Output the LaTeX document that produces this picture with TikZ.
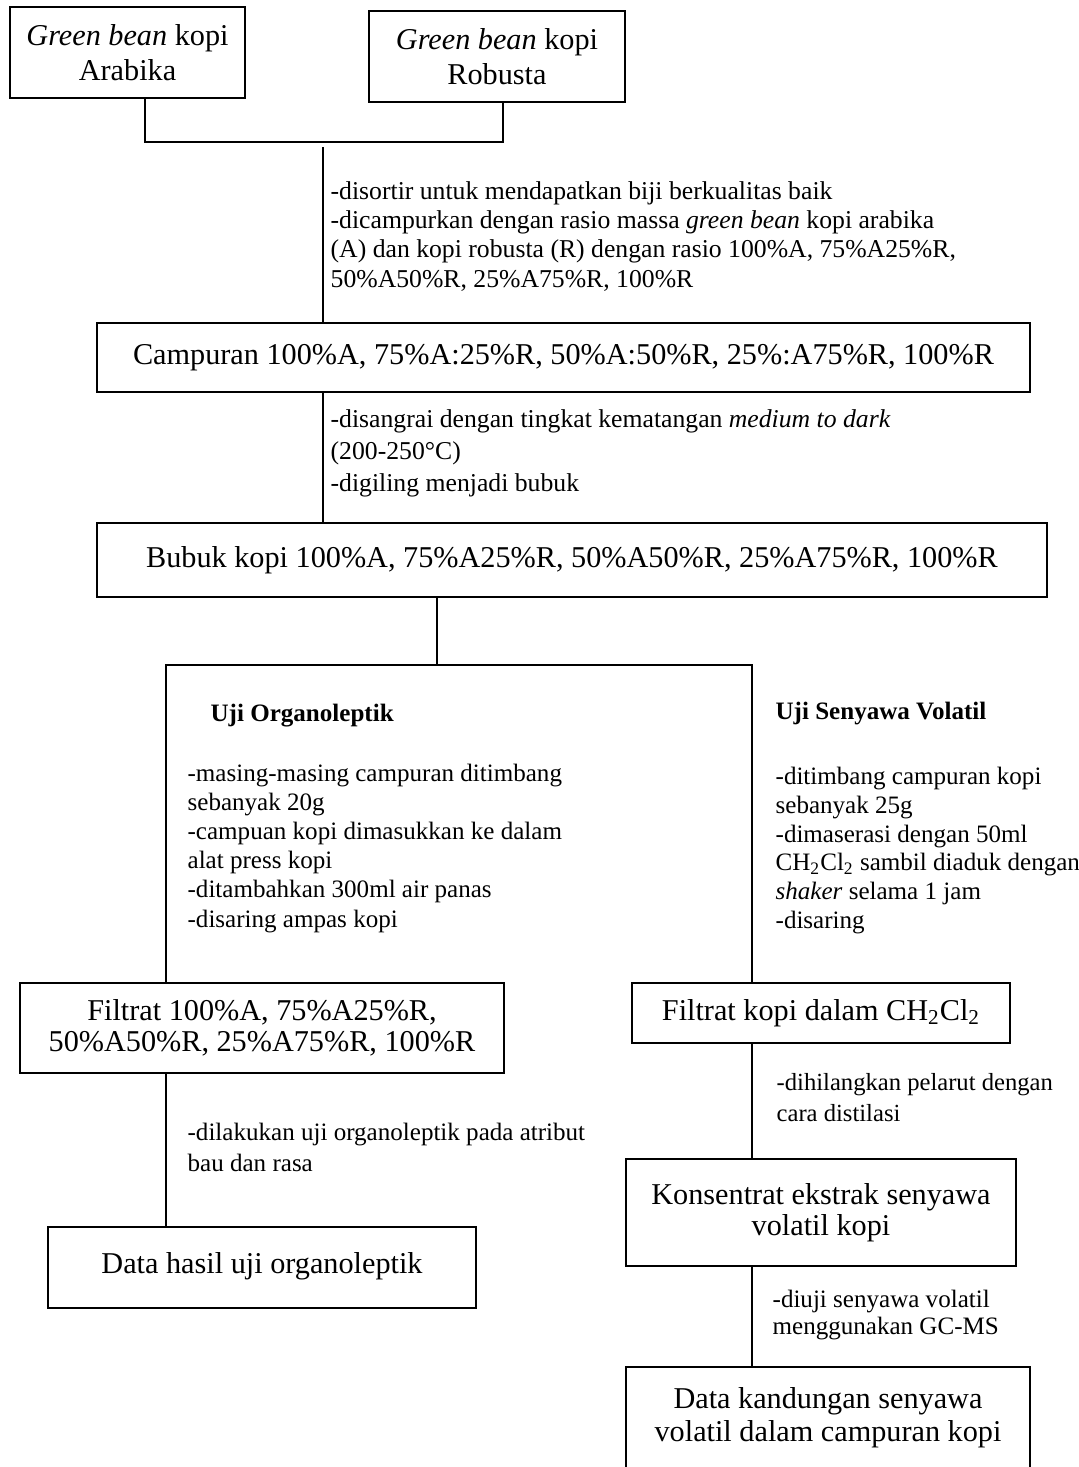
\documentclass[tikz,border=0pt]{standalone}
\usepackage{fontspec}
\setmainfont{Liberation Serif}

\begin{document}
\begin{tikzpicture}[x=0.463pt, y=-0.463pt, line width=0.6pt,
    kotak/.style={draw, inner sep=0pt, align=center, font=\fontsize{14}{14.6}\selectfont},
    ukuran/.style 2 args={minimum width=#1*0.463pt, minimum height=#2*0.463pt},
    ket/.style={anchor=base west, inner sep=0pt, align=left, font=\fontsize{11.6}{13.5}\selectfont}]
  \useasboundingbox (0,0) rectangle (1078,1467);
  % bahan awal
  \node[kotak, font=\fontsize{14}{16.2}\selectfont, ukuran={235}{91}] (arabika) at (127.5,52.5) {\textit{Green bean} kopi\\Arabika};
  \node[kotak, font=\fontsize{14}{16.2}\selectfont, ukuran={256}{91}] (robusta) at (497,56.5) {\textit{Green bean} kopi\\Robusta};
  \node[ket, font=\fontsize{11.9}{13.5}\selectfont] (ket1) at (330,287) {-disortir untuk mendapatkan biji berkualitas baik\\
    -dicampurkan dengan rasio massa \textit{green bean} kopi arabika\\
    (A) dan kopi robusta (R) dengan rasio 100\%A, 75\%A25\%R,\\
    50\%A50\%R, 25\%A75\%R, 100\%R};
  \node[kotak, ukuran={933}{69}] (campuran) at (563.5,357.5) {Campuran 100\%A, 75\%A:25\%R, 50\%A:50\%R, 25\%:A75\%R, 100\%R};
  \node[ket, font=\fontsize{11.9}{14.6}\selectfont] (ket2) at (330,491) {-disangrai dengan tingkat kematangan \textit{medium to dark}\\
    (200-250°C)\\
    -digiling menjadi bubuk};
  \node[kotak, ukuran={950}{74}] (bubuk) at (572,560) {\raisebox{2pt}{Bubuk kopi 100\%A, 75\%A25\%R, 50\%A50\%R, 25\%A75\%R, 100\%R}};
  % cabang uji
  \node[ket] (judulorg) at (210,721) {\textbf{Uji Organoleptik}};
  \node[ket] (ketorg) at (187,927) {-masing-masing campuran ditimbang\\
    sebanyak 20g\\
    -campuan kopi dimasukkan ke dalam\\
    alat press kopi\\
    -ditambahkan 300ml air panas\\
    -disaring ampas kopi};
  \node[ket] (judulvol) at (775,719) {\textbf{Uji Senyawa Volatil}};
  \node[ket, font=\fontsize{11.6}{13.25}\selectfont] (ketvol) at (775,928) {-ditimbang campuran kopi\\
    sebanyak 25g\\
    -dimaserasi dengan 50ml\\
    CH\textsubscript{2}Cl\textsubscript{2} sambil diaduk dengan\\
    \textit{shaker} selama 1 jam\\
    -disaring};
  \node[kotak, ukuran={484}{90}] (filtratA) at (262,1028) {Filtrat 100\%A, 75\%A25\%R,\\50\%A50\%R, 25\%A75\%R, 100\%R};
  \node[kotak, ukuran={378}{60}] (filtratB) at (821,1013) {Filtrat kopi dalam CH\textsubscript{2}Cl\textsubscript{2}};
  \node[ket, font=\fontsize{11.6}{13.9}\selectfont] (ket3) at (187,1171) {-dilakukan uji organoleptik pada atribut\\bau dan rasa};
  \node[kotak, ukuran={428}{81}] (datahasil) at (262,1267.5) {\raisebox{4pt}{Data hasil uji organoleptik}};
  \node[ket, font=\fontsize{11.4}{13.9}\selectfont] (ket4) at (776,1121) {-dihilangkan pelarut dengan\\cara distilasi};
  \node[kotak, ukuran={390}{107}] (konsentrat) at (821,1212.5) {Konsentrat ekstrak senyawa\\volatil kopi};
  \node[ket, font=\fontsize{11.6}{12.5}\selectfont] (ket5) at (772,1334) {-diuji senyawa volatil\\menggunakan GC-MS};
  \node[kotak, font=\fontsize{14}{15.3}\selectfont, ukuran={404}{102}] (datakandungan) at (828,1418) {Data kandungan senyawa\\volatil dalam campuran kopi};
  % garis penghubung
  \coordinate (cabang) at (323,147);
  \coordinate (uji)    at (437,665);
  \coordinate (kiri)   at (166,665);
  \coordinate (kanan)  at (752,665);
  \draw (145,0 |- arabika.south) |- (503,142) -- (503,0 |- robusta.south);
  \draw (cabang) -- (cabang |- campuran.north);
  \draw (cabang |- campuran.south) -- (cabang |- bubuk.north);
  \draw (uji |- bubuk.south) -- (uji);
  \draw (kiri |- filtratA.north) -- (kiri) -- (kanan) -- (kanan |- filtratB.north);
  \draw (kiri |- filtratA.south) -- (kiri |- datahasil.north);
  \draw (kanan |- filtratB.south) -- (kanan |- konsentrat.north);
  \draw (kanan |- konsentrat.south) -- (kanan |- datakandungan.north);
\end{tikzpicture}
\end{document}
